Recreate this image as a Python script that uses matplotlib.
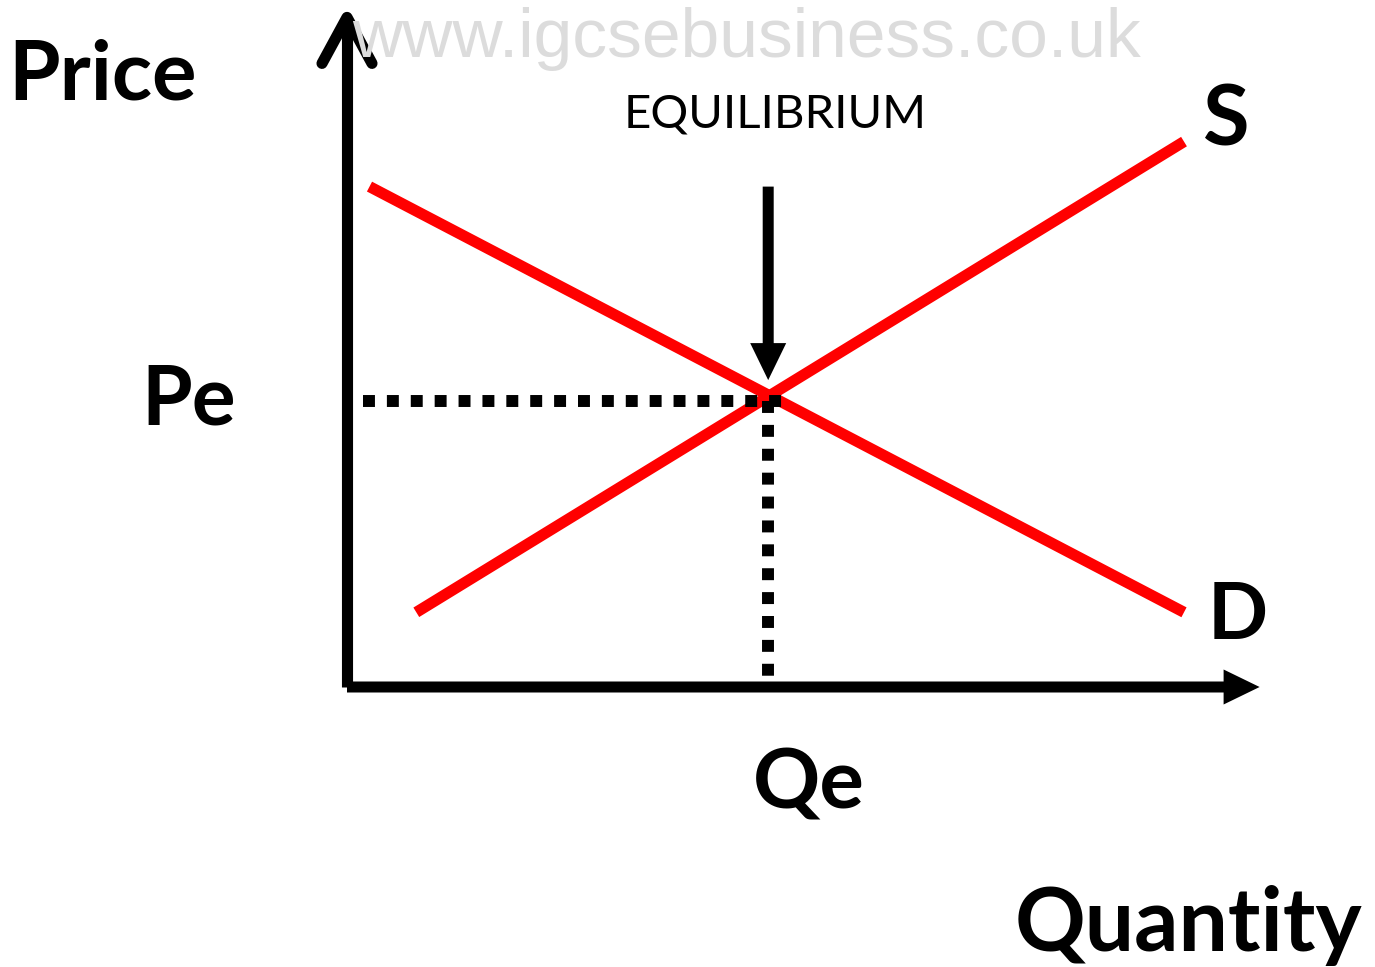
import matplotlib
matplotlib.use("Agg")
import matplotlib.pyplot as plt

# demand and supply curves (quantity, price)
demand_q = [0.25, 9.30]
demand_p = [5.56, 0.83]
supply_q = [0.77, 9.30]
supply_p = [0.83, 6.06]

# equilibrium
q_e = 4.68
p_e = 3.18

# axis extents
q_max = 10.14
p_max = 7.44

W, H = 1375, 967
fig = plt.figure(figsize=(W / 100, H / 100), dpi=100)
# origin sits at pixel (347, 687), 90 px per unit on both axes
ax = fig.add_axes([347 / W, (H - 687) / H, 900 / W, 630 / H])
ax.set_xlim(0, 10)
ax.set_ylim(0, 7)
ax.axis('off')

unit = 1 / 90  # one pixel in data units

# curves
ax.plot(demand_q, demand_p, color='#ff0000', lw=8, solid_capstyle='butt', clip_on=False)
ax.plot(supply_q, supply_p, color='#ff0000', lw=8, solid_capstyle='butt', clip_on=False)

# dotted guide lines
ax.plot([0.18, q_e + 0.16], [p_e, p_e], color='black', lw=8.6,
        linestyle=(0, (1, 1)), dash_capstyle='butt', clip_on=False)
ax.plot([q_e, q_e], [p_e, 0.10], color='black', lw=8.6,
        linestyle=(0, (1, 1)), dash_capstyle='butt', clip_on=False)

# x axis with filled arrowhead
ax.arrow(0, 0, q_max, 0, width=11 * unit, head_width=35 * unit, head_length=36 * unit,
         length_includes_head=True, color='black', lw=0, clip_on=False)

# y axis with open chevron head
ax.plot([0, 0], [0, p_max - 4 * unit], color='black', lw=8, solid_capstyle='butt', clip_on=False)
ax.plot([-25 * unit, 0, 25 * unit], [p_max - 46 * unit, p_max, p_max - 46 * unit],
        color='black', lw=8, solid_capstyle='round', solid_joinstyle='round', clip_on=False)

# equilibrium pointer
ax.arrow(q_e, 5.56, 0, p_e + 0.23 - 5.56, width=11 * unit, head_width=36 * unit,
         head_length=37 * unit, length_includes_head=True, color='black', lw=0, clip_on=False)


def put(text, x, y, size, weight='bold', color='black', family='Lato'):
    fig.text(x / W, 1 - y / H, text, fontsize=size, fontweight=weight, color=color,
             family=family, ha='left', va='baseline')


put('www.igcsebusiness.co.uk', 352, 57, 50, weight='normal', color='#dcdcdc',
    family='Liberation Sans')
put('EQUILIBRIUM', 624, 128, 34, weight='normal')
put('Price', 8, 100, 60)
put('S', 1203, 146, 61)
put('Pe', 141, 425, 59)
put('D', 1208, 639, 57)
put('Qe', 753, 808, 60)
put('Quantity', 1015, 951, 63)

fig.savefig('out.png', dpi=100)
